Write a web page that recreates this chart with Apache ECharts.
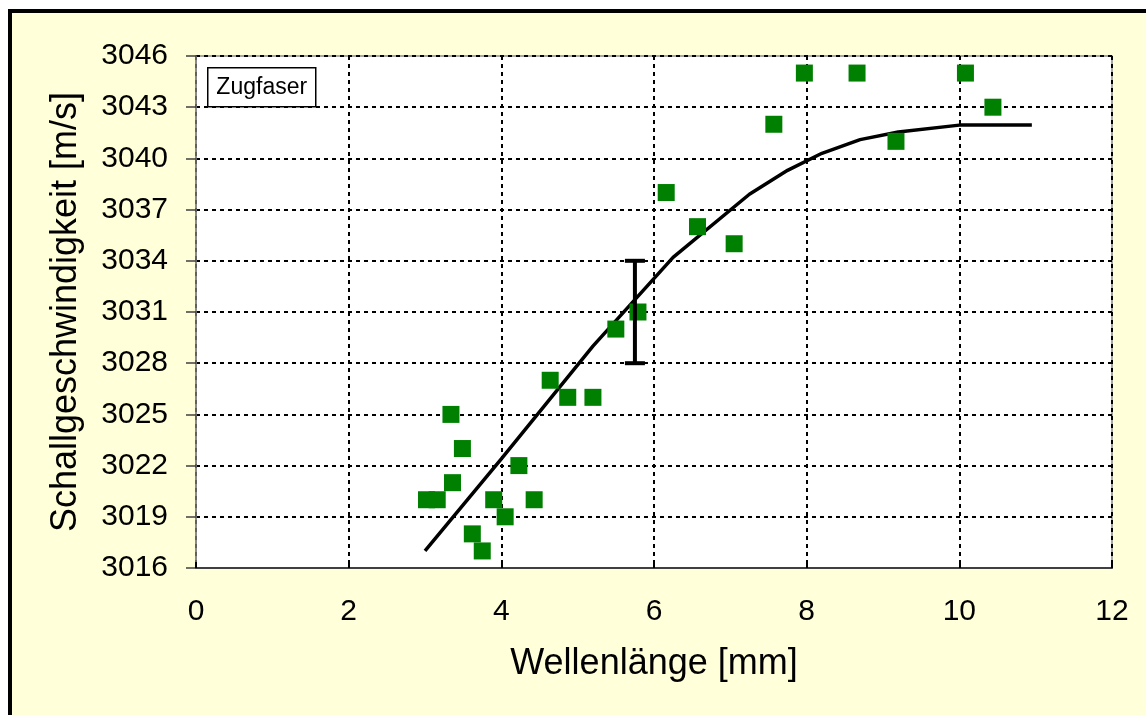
<!DOCTYPE html>
<html>
<head>
<meta charset="utf-8">
<style>
  html, body { margin: 0; padding: 0; background: #ffffff; }
  #chart { width: 1146px; height: 715px; }
</style>
<script src="https://cdn.jsdelivr.net/npm/echarts@6/dist/echarts.min.js"></script>
</head>
<body>
<div id="chart"></div>
<script>
// Measured samples: wavelength [mm] and sound velocity [m/s]
const sampleX = [3.02, 3.16, 3.34, 3.36, 3.49, 3.62, 3.75, 3.90, 4.05, 4.23, 4.43, 4.64, 4.87, 5.20, 5.50, 5.79, 6.16, 6.57, 7.05, 7.57, 7.97, 8.66, 9.17, 10.08, 10.44];
const sampleY = [3020, 3020, 3025, 3021, 3023, 3018, 3017, 3020, 3019, 3022, 3020, 3027, 3026, 3026, 3030, 3031, 3038, 3036, 3035, 3042, 3045, 3045, 3041, 3045, 3043];

// Trend curve
const fitX = [3.0, 4.0, 5.2, 6.25, 7.25, 7.75, 8.2, 8.7, 9.2, 10.0, 10.95];
const fitY = [3017.0, 3022.4, 3029.0, 3034.2, 3037.9, 3039.3, 3040.3, 3041.1, 3041.55, 3041.95, 3041.95];

// Typical scatter range
const errX = [5.75];
const errLow = [3028];
const errHigh = [3034];

const xTicks = { min: 0, max: 12, step: 2 };
const yTicks = { min: 3016, max: 3046, step: 3 };

const FONT = "'Liberation Sans', Arial, sans-serif";

const chart = echarts.init(document.getElementById('chart'), null, { renderer: 'canvas' });

const gridLine = { show: true, lineStyle: { color: '#000000', width: 2, type: [4, 4] } };

chart.setOption({
  backgroundColor: '#ffffff',
  animation: false,
  graphic: [
    {
      type: 'rect', z: -10, silent: true,
      shape: { x: 10, y: 11, width: 1300, height: 900 },
      style: { fill: '#ffffd9', stroke: '#000000', lineWidth: 4 }
    },
    {
      type: 'group', left: 207, top: 67, z: 100,
      children: [
        { type: 'rect', shape: { x: 0, y: 0, width: 108, height: 39 },
          style: { fill: '#ffffff', stroke: '#000000', lineWidth: 1.5 } },
        { type: 'text', x: 54, y: 20,
          style: { text: 'Zugfaser', font: '23px ' + FONT, fill: '#000000', align: 'center', verticalAlign: 'middle' } }
      ]
    }
  ],
  grid: {
    left: 196, right: 34, top: 56, bottom: 147,
    show: true, backgroundColor: '#ffffff', borderColor: '#8c8c8c', borderWidth: 1.5
  },
  xAxis: {
    type: 'value', min: xTicks.min, max: xTicks.max, interval: xTicks.step,
    name: 'Wellenlänge [mm]', nameLocation: 'middle', nameGap: 78,
    nameTextStyle: { fontSize: 36, fontFamily: FONT, color: '#000000' },
    axisLine: { show: true, onZero: false, lineStyle: { color: '#404040', width: 2 } },
    axisTick: { show: true, inside: true, length: 6, lineStyle: { color: '#000000', width: 2 } },
    axisLabel: { fontSize: 30, fontFamily: FONT, color: '#000000', margin: 29, formatter: v => String(v) },
    splitLine: gridLine
  },
  yAxis: {
    type: 'value', min: yTicks.min, max: yTicks.max, interval: yTicks.step,
    name: 'Schallgeschwindigkeit [m/s]', nameLocation: 'middle', nameGap: 112, nameRotate: 90,
    nameTextStyle: { fontSize: 36, fontFamily: FONT, color: '#000000' },
    axisLine: { show: true, lineStyle: { color: '#808080', width: 1.5 } },
    axisTick: { show: true, length: 10, lineStyle: { color: '#404040', width: 1.5 } },
    axisLabel: { fontSize: 30, fontFamily: FONT, color: '#000000', margin: 28, formatter: v => String(v) },
    splitLine: gridLine
  },
  series: [
    {
      type: 'line', name: 'Trend',
      data: fitX.map((x, i) => [x, fitY[i]]),
      showSymbol: false, symbol: 'none', smooth: false,
      lineStyle: { color: '#000000', width: 3.5 }, z: 3
    },
    {
      type: 'scatter', name: 'Zugfaser',
      data: sampleX.map((x, i) => [x, sampleY[i]]),
      symbol: 'rect', symbolSize: 17,
      itemStyle: { color: '#008000', opacity: 1 }, z: 4
    },
    {
      type: 'custom', name: 'Streuung',
      data: errX.map((x, i) => [x, errLow[i], errHigh[i]]),
      renderItem: function (params, api) {
        const lo = api.coord([api.value(0), api.value(1)]);
        const hi = api.coord([api.value(0), api.value(2)]);
        const cap = 10;
        const st = { stroke: '#000000', lineWidth: 4 };
        return {
          type: 'group',
          children: [
            { type: 'line', shape: { x1: hi[0], y1: hi[1], x2: lo[0], y2: lo[1] }, style: st },
            { type: 'line', shape: { x1: hi[0] - cap, y1: hi[1], x2: hi[0] + cap, y2: hi[1] }, style: st },
            { type: 'line', shape: { x1: lo[0] - cap, y1: lo[1], x2: lo[0] + cap, y2: lo[1] }, style: st }
          ]
        };
      },
      z: 5
    }
  ]
});
</script>
</body>
</html>
